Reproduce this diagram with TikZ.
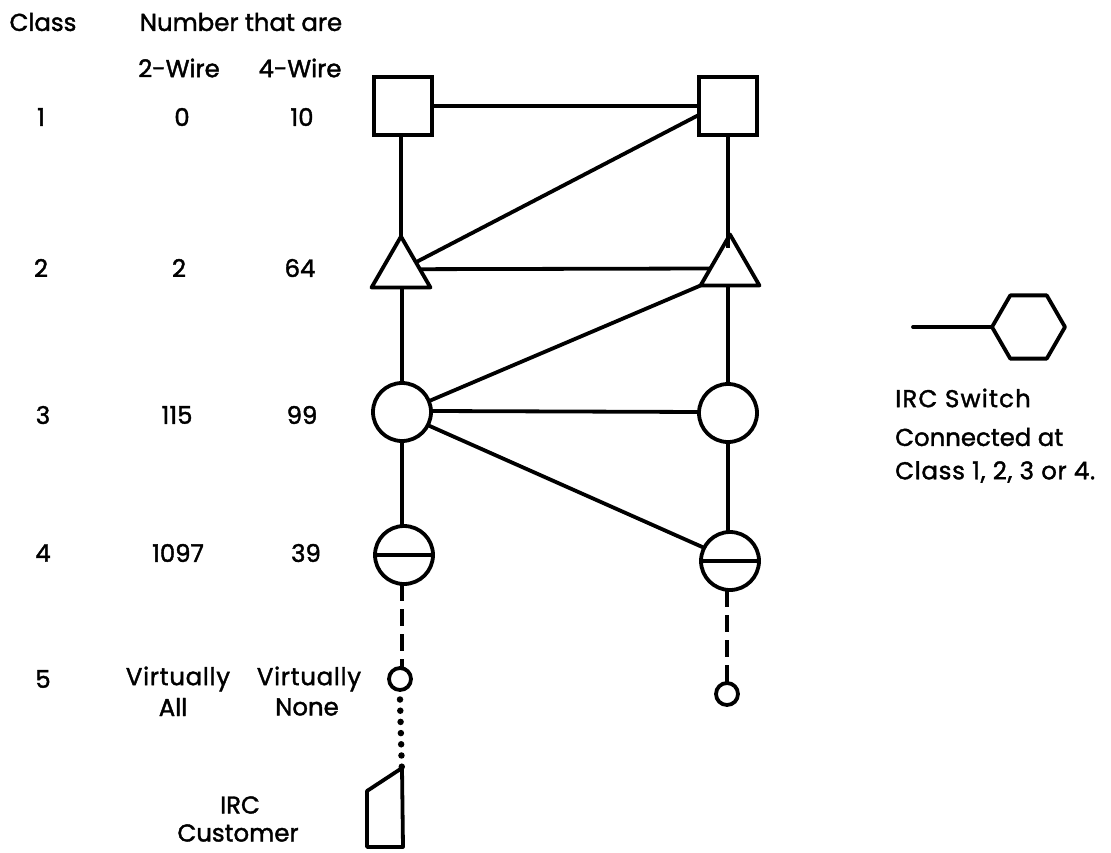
\documentclass[tikz,border=0pt]{standalone}
\usepackage{fontspec}
\setmainfont{Poppins}
\newfontfamily\lblfont[FakeBold=1.6]{Poppins}
\usetikzlibrary{shapes.geometric}
\tikzset{
  x=1pt,y=-1pt,
  wire/.style={line width=3.8pt,black},
  sq/.style={draw,line width=3.8pt,rectangle,minimum size=58pt,inner sep=0pt,outer sep=0pt},
  tri/.style={draw,line width=3.8pt,line join=round,regular polygon,regular polygon sides=3,minimum size=68pt,inner sep=0pt,outer sep=0pt},
  circ/.style={draw,line width=3.8pt,circle,minimum size=58pt,inner sep=0pt,outer sep=0pt},
  small/.style={draw,line width=3.8pt,circle,minimum size=22pt,inner sep=0pt,outer sep=0pt},
  hexa/.style={draw,line width=3.8pt,line join=round,regular polygon,regular polygon sides=6,minimum size=73pt,inner sep=0pt,outer sep=0pt},
  lbl/.style={font=\lblfont\fontsize{24.4}{28}\selectfont,inner sep=0pt},
  ledge/.style={lbl,anchor=west}
}
\begin{document}
\begin{tikzpicture}
\useasboundingbox (0,0) rectangle (1111,852);
% labels
\node[lbl] (h1) at (43,22) {Class};
\node[lbl] (h2) at (241,22) {Number that are};
\node[lbl] (h3) at (179,68) {2-Wire};
\node[lbl] (h4) at (300,68) {4-Wire};
\node[lbl] (a1) at (41,117) {1};
\node[lbl] (b1) at (182,117) {0};
\node[lbl] (d1) at (302,117) {10};
\node[lbl] (a2) at (41,268) {2};
\node[lbl] (b2) at (179,268) {2};
\node[lbl] (d2) at (300,268) {64};
\node[lbl] (a3) at (43,415) {3};
\node[lbl] (b3) at (177,415) {115};
\node[lbl] (d3) at (302,415) {99};
\node[lbl] (a4) at (43,553) {4};
\node[lbl] (b4) at (178,553) {1097};
\node[lbl] (d4) at (306,553) {39};
\node[lbl] (a5) at (43,679) {5};
\node[lbl] (b5) at (178,679) {\addfontfeature{LetterSpace=3}Virtually};
\node[lbl] (b6) at (173,707) {All};
\node[lbl] (d5) at (309,679) {\addfontfeature{LetterSpace=3}Virtually};
\node[lbl] (d6) at (307,707) {None};
\node[lbl] (i1) at (240,805) {IRC};
\node[lbl] (i2) at (238,833) {Customer};
\node[ledge] (s1) at (895,398) {\addfontfeature{LetterSpace=5}IRC Switch};
\node[ledge] (s2) at (895,437) {Connected at};
\node[ledge] (s3) at (895,472) {\addfontfeature{LetterSpace=3}Class 1, 2, 3 or 4.};
% exchanges
\node[sq] (q1) at (403,106) {};
\node[sq] (q2) at (728,106) {};
\node[tri] (t1) at (401,270.5) {};
\node[tri] (t2) at (730,268.5) {};
\node[circ] (c1) at (402,412) {};
\node[circ] (c2) at (728,413) {};
\node[circ] (e1) at (404,555) {};
\node[circ] (e2) at (730,561) {};
\node[small] (m1) at (400,679) {};
\node[small] (m2) at (727,694) {};
\draw[line width=3.2pt] (e1.west) -- (e1.east);
\draw[line width=3.2pt] (e2.west) -- (e2.east);
\node[hexa] (h) at (1028.5,327) {};
\coordinate (hs) at (913,327);
% customer
\coordinate (k1) at (402,768);
\coordinate (k2) at (367,791);
\coordinate (k3) at (367,847);
\coordinate (k4) at (403,847);
\draw[line width=3.8pt,line join=round] (k1) -- (k2) -- (k3) -- (k4) -- cycle;
% connectors
\draw[wire] (q1.east) -- (q2.west);
\draw[wire] (q2.197) -- (t1.29);
\draw[wire] (t1.north |- q1.south) -- (t1.north);
\draw[wire] (q2.south) -- (q2.south |- t2.110);
\draw[wire] (t1.4) -- (t2.180);
\draw[wire] (c1.north |- t1.south) -- (c1.north);
\draw[wire] (c2.north |- t2.south) -- (c2.north);
\draw[wire] (t2.210) -- (c1.22);
\draw[wire] (c1.2) -- (c2.178);
\draw[wire] (c1.-27) -- (e2.153);
\draw[wire] (c1.south) -- (c1.south |- e1.north);
\draw[wire] (c2.south) -- (c2.south |- e2.north);
\draw[wire,dash pattern=on 17pt off 8pt] (c1.south |- e1.south) -- (c1.south |- m1.north);
\draw[wire,dash pattern=on 17pt off 8pt] (m2.north |- e2.south) -- (m2.north);
\draw[line width=6.5pt,line cap=round,dash pattern=on 0pt off 11.2pt] ([yshift=-9.5pt]m1.south) -- ([yshift=-8pt]k1);
\draw[wire,line cap=round] (hs) -- (h.180);
\end{tikzpicture}
\end{document}
